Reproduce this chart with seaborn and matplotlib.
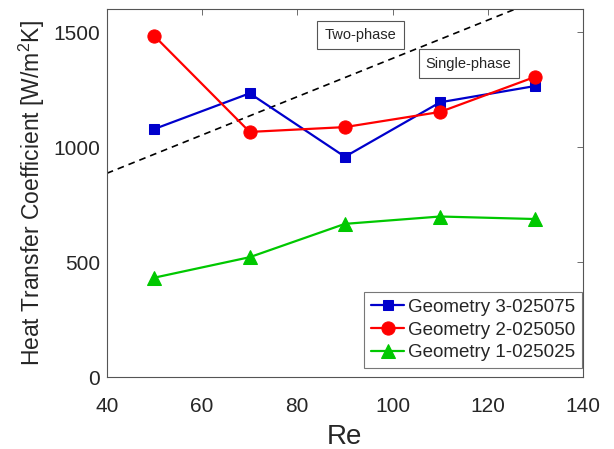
import matplotlib
matplotlib.use("Agg")
import matplotlib.pyplot as plt
import seaborn as sns
import numpy as np

re_values = [50, 70, 90, 110, 130]
geom3 = [1080, 1235, 959, 1196, 1267]
geom2 = [1484, 1067, 1088, 1154, 1307]
geom1 = [433, 522, 667, 699, 688]
labels = ["Geometry 3-025075", "Geometry 2-025050", "Geometry 1-025025"]
boundary_x = [40, 140]
boundary_y = [887, 1720]

sns.set_style("white")
plt.rcParams['font.family'] = ['Liberation Sans', 'DejaVu Sans']
plt.rcParams['mathtext.fontset'] = 'custom'
plt.rcParams['mathtext.rm'] = 'Liberation Sans'

fig = plt.figure(figsize=(6.14, 4.49), dpi=100)
ax = fig.add_axes([0.174, 0.160, 0.7755, 0.819])

sns.lineplot(x=boundary_x, y=boundary_y, ax=ax, color='black', linestyle=(0, (4, 3)), lw=1.2, zorder=1)
sns.lineplot(x=re_values, y=geom3, ax=ax, color='#0000CC', marker='s', markersize=7, lw=1.6,
             markeredgecolor='#0000CC', label=labels[0], zorder=3)
sns.lineplot(x=re_values, y=geom2, ax=ax, color='#FF0000', marker='o', markersize=9.5, lw=1.6,
             markeredgecolor='#FF0000', label=labels[1], zorder=3)
sns.lineplot(x=re_values, y=geom1, ax=ax, color='#00C800', marker='^', markersize=10, lw=1.6,
             markeredgecolor='#00C800', label=labels[2], zorder=3)

ax.set_xlim(40, 140)
ax.set_ylim(0, 1600)
ax.set_xticks([40, 60, 80, 100, 120, 140])
ax.set_yticks([0, 500, 1000, 1500])
ax.tick_params(direction='in', length=4, width=0.6, color='#555555', labelsize=15,
               top=True, right=True, labelcolor='#262626')
ax.tick_params(axis='x', pad=14)
ax.tick_params(axis='y', pad=5)
for s in ax.spines.values():
    s.set_visible(True)
    s.set_color('#555555')
    s.set_linewidth(0.8)

ax.set_xlabel("Re", fontsize=20, color='#262626', labelpad=6)
ax.set_ylabel("Heat Transfer Coefficient [W/m$^2$K]", fontsize=16.5, color='#262626', labelpad=4)

bbox = dict(boxstyle='square,pad=0.5', facecolor='white', edgecolor='#555555', linewidth=0.8)
ax.text(93.3, 1488, "Two-phase", ha='center', va='center', fontsize=10.5, bbox=bbox, color='#262626', zorder=4)
ax.text(116, 1364, "Single-phase", ha='center', va='center', fontsize=10.5, bbox=bbox, color='#262626', zorder=4)

leg = ax.legend(loc='lower right', bbox_to_anchor=(0.998, 0.025), fontsize=13.5, frameon=True,
                fancybox=False, handlelength=1.8, handletextpad=0.2, borderpad=0.35,
                labelspacing=0.3, borderaxespad=0)
leg.get_frame().set_edgecolor('#555555')
leg.get_frame().set_linewidth(0.8)

fig.savefig("out.png", dpi=100)
